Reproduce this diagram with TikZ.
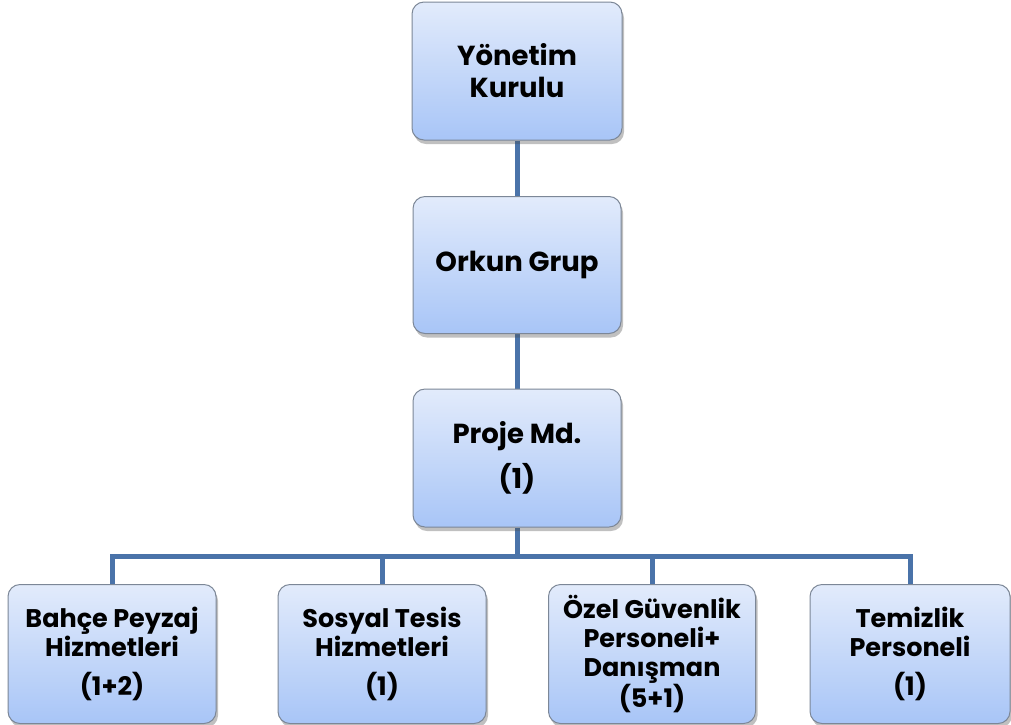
\documentclass[tikz,border=0pt]{standalone}
\usepackage{fontspec}
\setmainfont{Poppins}
\usetikzlibrary{shadows,backgrounds}
\definecolor{linec}{HTML}{4A73A9}
\definecolor{topc}{HTML}{E2EBFB}
\definecolor{botc}{HTML}{A8C5F7}
\definecolor{edgec}{HTML}{7C8797}
\tikzset{
  orgbox/.style={draw=edgec, line width=1pt, rounded corners=12pt,
    top color=topc, bottom color=botc, align=center, inner sep=0pt,
    font=\bfseries\fontsize{27.5}{32}\selectfont,
    drop shadow={shadow xshift=2pt, shadow yshift=-4pt, opacity=0.35, fill=black!70}},
  smallbox/.style={orgbox, font=\bfseries\fontsize{25.5}{29}\selectfont},
  conn/.style={draw=linec, line width=5pt}
}
\begin{document}
\begin{tikzpicture}[x=1pt,y=-1pt]
\useasboundingbox (0,0) rectangle (1011,724);
\node[orgbox, minimum width=210pt, minimum height=138pt] (yk) at (517,71) {Yönetim\\Kurulu};
\node[orgbox, minimum width=208pt, minimum height=137pt] (og) at (517,265) {Orkun Grup};
\node[orgbox, minimum width=208pt, minimum height=138pt, font=\bfseries\fontsize{27.5}{45}\selectfont] (pm) at (517,458) {Proje Md.\\(1)};
\node[smallbox, minimum width=208pt, minimum height=139pt] (a) at (112,654) {Bahçe Peyzaj\\Hizmetleri\\[10pt](1+2)};
\node[smallbox, minimum width=208pt, minimum height=139pt] (b) at (382,654) {Sosyal Tesis\\Hizmetleri\\[10pt](1)};
\node[smallbox, minimum width=207pt, minimum height=139pt] (c) at (652,654) {Özel Güvenlik\\Personeli+\\Danışman\\(5+1)};
\node[smallbox, minimum width=200pt, minimum height=139pt] (d) at (910,654) {Temizlik\\Personeli\\[10pt](1)};
\coordinate (bar) at (517,556);
\begin{scope}[on background layer]
\fill[white] (0,0) rectangle (1011,724);
\draw[conn] (yk.south) -- (og.north);
\draw[conn] (og.south) -- (pm.north);
\draw[conn] (pm.south) -- (bar);
\draw[conn] (a.north) |- (bar) -| (d.north);
\draw[conn] (b.north) -- (b.north |- bar);
\draw[conn] (c.north) -- (c.north |- bar);
\end{scope}
\end{tikzpicture}
\end{document}
